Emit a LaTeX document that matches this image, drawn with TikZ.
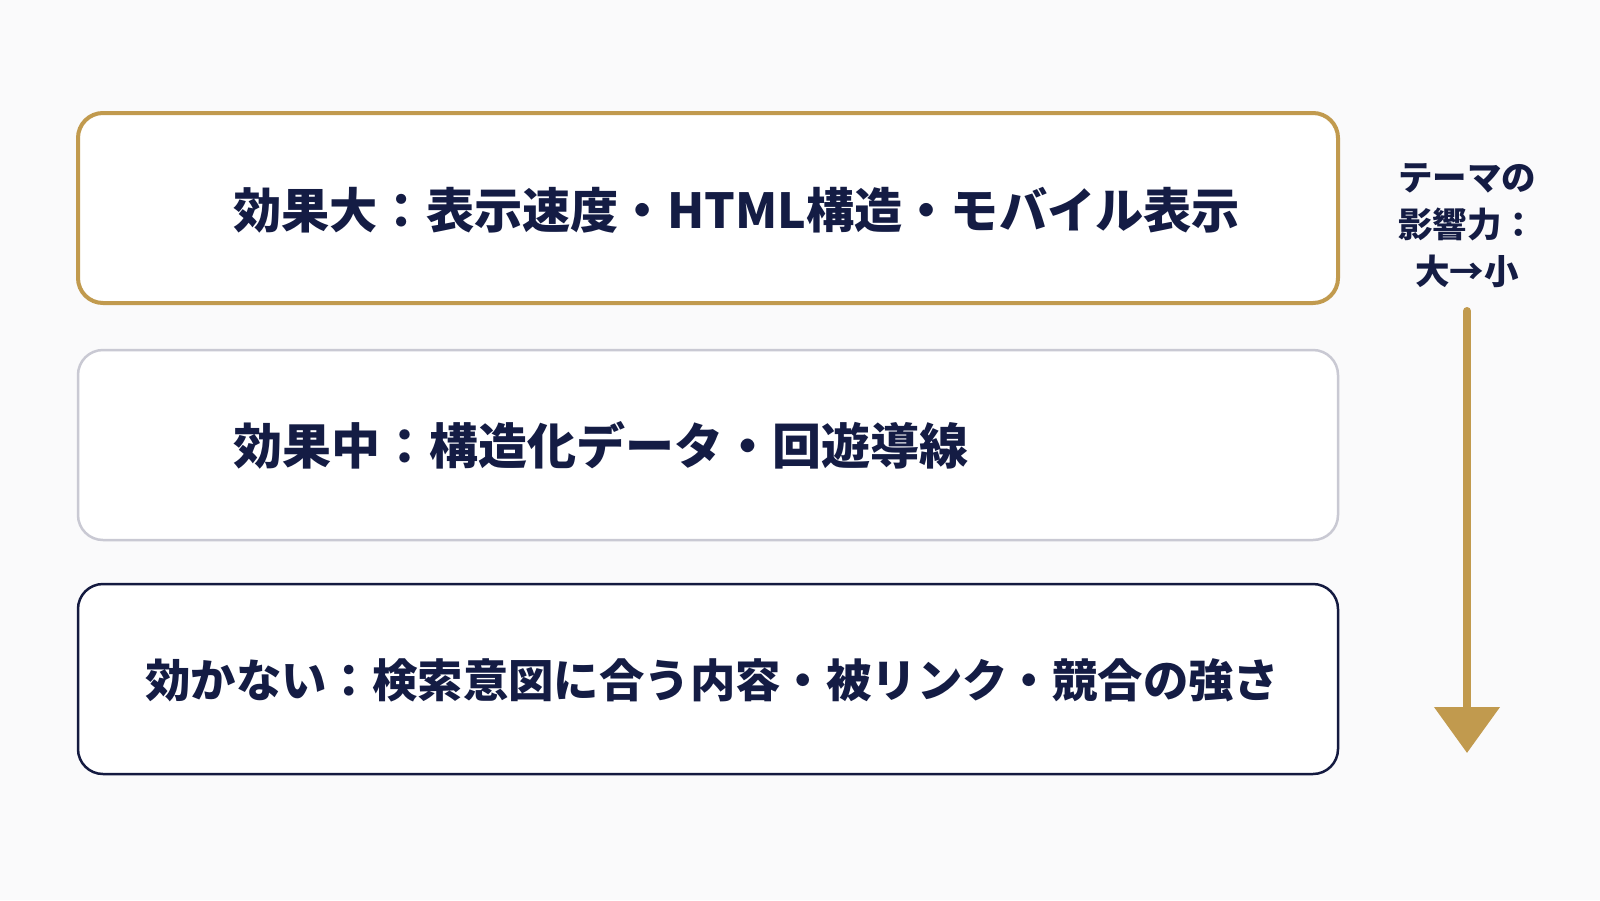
\documentclass[tikz,border=0pt]{standalone}
\usepackage{fontspec}
\newfontfamily\jp{Noto Sans CJK JP}
\usetikzlibrary{arrows.meta}
\definecolor{bgc}{HTML}{FAFAFB}
\definecolor{gold}{HTML}{C19A4E}
\definecolor{navy}{HTML}{141A40}
\definecolor{txt}{HTML}{141C44}
\definecolor{grayb}{HTML}{C9C9D3}
\tikzset{
  panel/.style={rounded corners=25pt, fill=white, minimum width=1260pt, minimum height=190pt, inner sep=0pt},
  maintext/.style={anchor=base west, inner sep=0pt, text=txt, font=\jp\bfseries},
  sidetext/.style={align=center, inner sep=0pt, text=txt, font=\jp\bfseries\fontsize{34.5}{47}\selectfont},
  flow/.style={draw=gold, line width=8pt, line cap=round, -{Triangle[width=64pt,length=46pt]}}
}
\begin{document}
\begin{tikzpicture}[x=1pt,y=-1pt]
\fill[bgc] (0,0) rectangle (1600,900);
\useasboundingbox (0,0) rectangle (1600,900);
\node[panel, draw=gold, line width=4pt] (b1) at (708,208) {};
\node[panel, draw=grayb, line width=2.5pt] (b2) at (708,445) {};
\node[panel, draw=navy, line width=2.5pt] (b3) at (708,679) {};
\node[maintext, font=\jp\bfseries\fontsize{48.2}{58}\selectfont] (t1) at (233,228) {効果大：表示速度・HTML構造・モバイル表示};
\node[maintext, font=\jp\bfseries\fontsize{49}{58}\selectfont] (t2) at (233,464) {効果中：構造化データ・回遊導線};
\node[maintext, font=\jp\bfseries\fontsize{45.4}{54}\selectfont] (t3) at (145,697) {効かない：検索意図に合う内容・被リンク・競合の強さ};
\node[sidetext] (lab) at (1467,226) {テーマの\\影響力：\\大→小};
\coordinate (as) at (1467,311);
\coordinate (ae) at (1467,753);
\draw[flow] (as) -- (ae);
\end{tikzpicture}
\end{document}
